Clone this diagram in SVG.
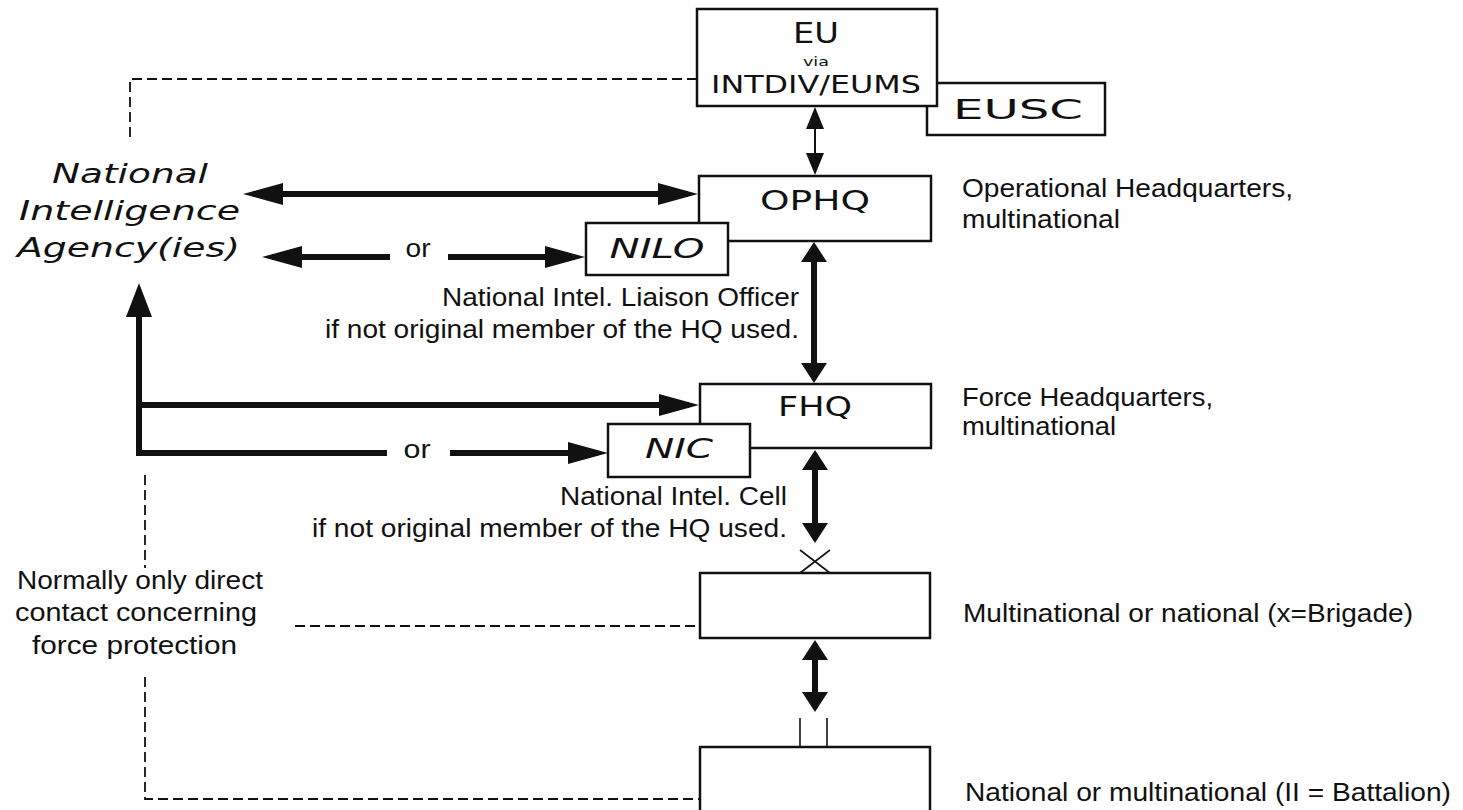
<svg xmlns="http://www.w3.org/2000/svg" width="1463" height="810" viewBox="0 0 1463 810">
<style>
.box{fill:#fff;stroke:#111;stroke-width:2.5}
.v{font-family:"DejaVu Sans",Verdana,sans-serif;fill:#111;text-anchor:middle}
.vi{font-family:"DejaVu Sans",Verdana,sans-serif;font-style:italic;fill:#111;text-anchor:middle}
.a{font-family:"Liberation Sans",Arial,sans-serif;fill:#111;font-size:26px}
.thick{stroke:#111;stroke-width:6;fill:none}
.thin{stroke:#111;stroke-width:2;fill:none}
.dash{stroke:#111;stroke-width:1.8;fill:none;stroke-dasharray:10 5}
.sym{stroke:#111;stroke-width:1.6;fill:none}
</style>
<defs>
<marker id="ah" markerUnits="userSpaceOnUse" markerWidth="40" markerHeight="22" refX="30" refY="11" orient="auto-start-reverse"><path d="M0,0 L40,11 L0,22 z" fill="#111"/></marker>
<marker id="av" markerUnits="userSpaceOnUse" markerWidth="20" markerHeight="26" refX="15" refY="13" orient="auto-start-reverse"><path d="M0,0 L20,13 L0,26 z" fill="#111"/></marker>
<marker id="au" markerUnits="userSpaceOnUse" markerWidth="34" markerHeight="26" refX="26" refY="13" orient="auto-start-reverse"><path d="M0,0 L34,13 L0,26 z" fill="#111"/></marker>
<marker id="at" markerUnits="userSpaceOnUse" markerWidth="22" markerHeight="18" refX="20" refY="9" orient="auto-start-reverse"><path d="M0,0 L22,9 L0,18 z" fill="#111"/></marker>
</defs>
<rect width="1463" height="810" fill="#fff"/>

<g id="connectors">
  <path class="dash" d="M130,137 L130,79 L697,79"/>
  <path class="thin" d="M815,109 L815,173" marker-start="url(#at)" marker-end="url(#at)"/>
  <path class="thick" d="M253,194 L688,194" marker-start="url(#ah)" marker-end="url(#ah)"/>
  <path class="thick" d="M390,257 L272,257" marker-end="url(#ah)"/>
  <path class="thick" d="M448,257 L575,257" marker-end="url(#ah)"/>
  <path class="thick" d="M814,247 L814,378" marker-start="url(#av)" marker-end="url(#av)"/>
  <path class="thick" d="M139,405 L689,405" marker-end="url(#ah)"/>
  <path class="thick" d="M387,453 L139,453 L139,291" marker-end="url(#au)"/>
  <path class="thick" d="M450,453 L598,453" marker-end="url(#ah)"/>
  <path class="thick" d="M815,455 L815,538" marker-start="url(#av)" marker-end="url(#av)"/>
  <path class="thick" d="M815,645 L815,707" marker-start="url(#av)" marker-end="url(#av)"/>
  <path class="dash" d="M145,475 L145,568"/>
  <path class="dash" d="M295,626 L700,626"/>
  <path class="dash" d="M145,677 L145,799 L700,799"/>
</g>

<g id="eusc">
  <rect class="box" x="927" y="83" width="178" height="52"/>
  <text class="v" x="1018" y="119" font-size="27" textLength="130" lengthAdjust="spacingAndGlyphs">EUSC</text>
</g>
<g id="eu">
  <rect class="box" x="697" y="9" width="240" height="97"/>
  <text class="v" x="816" y="43" font-size="28" textLength="46" lengthAdjust="spacingAndGlyphs">EU</text>
  <text class="v" x="816" y="66" font-size="12" textLength="26" lengthAdjust="spacingAndGlyphs">via</text>
  <text class="v" x="816" y="93" font-size="24" textLength="210" lengthAdjust="spacingAndGlyphs">INTDIV/EUMS</text>
</g>

<g id="nia">
  <text class="vi" x="130" y="183" font-size="26" textLength="156" lengthAdjust="spacingAndGlyphs">National</text>
  <text class="vi" x="129.5" y="220" font-size="26" textLength="221" lengthAdjust="spacingAndGlyphs">Intelligence</text>
  <text class="vi" x="128.5" y="257" font-size="26" textLength="223" lengthAdjust="spacingAndGlyphs">Agency(ies)</text>
</g>

<g id="ophq">
  <rect class="box" x="699" y="176" width="232" height="65"/>
  <text class="v" x="815" y="210" font-size="26" textLength="110" lengthAdjust="spacingAndGlyphs">OPHQ</text>
  <text class="a" x="962" y="197" textLength="331" lengthAdjust="spacingAndGlyphs">Operational Headquarters,</text>
  <text class="a" x="962" y="228" textLength="158" lengthAdjust="spacingAndGlyphs">multinational</text>
</g>
<g id="nilo">
  <rect class="box" x="586" y="223" width="142" height="52"/>
  <text class="vi" x="657" y="258" font-size="26" textLength="95" lengthAdjust="spacingAndGlyphs">NILO</text>
  <text class="a" x="799" y="306" text-anchor="end" textLength="357" lengthAdjust="spacingAndGlyphs">National Intel. Liaison Officer</text>
  <text class="a" x="799" y="338" text-anchor="end" textLength="474" lengthAdjust="spacingAndGlyphs">if not original member of the HQ used.</text>
</g>
<text class="a" x="418" y="257" text-anchor="middle" textLength="25" lengthAdjust="spacingAndGlyphs">or</text>

<g id="fhq">
  <rect class="box" x="700" y="384" width="231" height="64"/>
  <text class="v" x="815" y="416" font-size="26" textLength="74" lengthAdjust="spacingAndGlyphs">FHQ</text>
  <text class="a" x="962" y="406" textLength="251" lengthAdjust="spacingAndGlyphs">Force Headquarters,</text>
  <text class="a" x="962" y="435" textLength="154" lengthAdjust="spacingAndGlyphs">multinational</text>
</g>
<g id="nic">
  <rect class="box" x="608" y="424" width="142" height="53"/>
  <text class="vi" x="679" y="458" font-size="26" textLength="68" lengthAdjust="spacingAndGlyphs">NIC</text>
  <text class="a" x="787" y="505" text-anchor="end" textLength="227" lengthAdjust="spacingAndGlyphs">National Intel. Cell</text>
  <text class="a" x="787" y="537" text-anchor="end" textLength="475" lengthAdjust="spacingAndGlyphs">if not original member of the HQ used.</text>
</g>
<text class="a" x="417" y="458" text-anchor="middle" textLength="27" lengthAdjust="spacingAndGlyphs">or</text>

<g id="note">
  <text class="a" x="140" y="589" text-anchor="middle" textLength="246" lengthAdjust="spacingAndGlyphs">Normally only direct</text>
  <text class="a" x="136" y="621" text-anchor="middle" textLength="242" lengthAdjust="spacingAndGlyphs">contact concerning</text>
  <text class="a" x="134.5" y="654" text-anchor="middle" textLength="205" lengthAdjust="spacingAndGlyphs">force protection</text>
</g>

<g id="brigade">
  <path class="sym" d="M800,573 L830,550 M800,550 L830,573"/>
  <rect class="box" x="700" y="573" width="230" height="65"/>
  <text class="a" x="963" y="622" textLength="450" lengthAdjust="spacingAndGlyphs">Multinational or national (x=Brigade)</text>
</g>

<g id="battalion">
  <path class="sym" d="M800,718 L800,747 M827,718 L827,747"/>
  <rect class="box" x="700" y="747" width="230" height="70"/>
  <text class="a" x="965" y="801" textLength="486" lengthAdjust="spacingAndGlyphs">National or multinational (II = Battalion)</text>
</g>
</svg>
